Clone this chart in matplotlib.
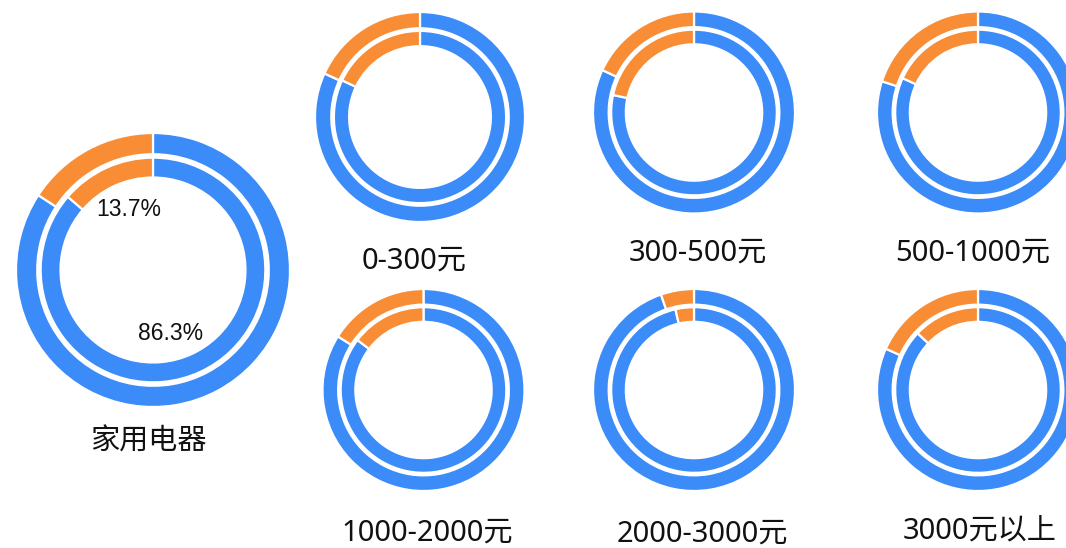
import matplotlib
matplotlib.use("Agg")
import matplotlib.pyplot as plt

# ---- data ----
categories = ['家用电器', '0-300元', '300-500元', '500-1000元', '1000-2000元', '2000-3000元', '3000元以上']
outer_orange = [15.8, 18.2, 18.1, 20.0, 16.1, 5.3, 18.3]   # outer ring, orange share (%)
inner_orange = [13.7, 18.0, 21.6, 18.2, 14.7, 3.6, 13.0]   # inner ring, orange share (%)
main_labels = ['86.3%', '13.7%']

# ---- layout (pixel positions, y measured from top) ----
W, H = 1066, 548
centers = [(153, 270), (420, 117), (694, 112.5), (978, 112.5),
           (423.5, 390), (694, 390), (978, 390)]
radii = [137, 105, 101, 101, 101, 101, 101]
title_pos = [(148, 442), (414, 261), (698, 253), (973, 253),
             (427.5, 533), (702, 534), (980, 532)]

BLUE = '#3b8bf9'
ORANGE = '#f98d36'

fig = plt.figure(figsize=(W / 100, H / 100), dpi=100)
ax = fig.add_axes([0, 0, 1, 1])

for i, name in enumerate(categories):
    cx, cy = centers[i]
    R = radii[i]
    c = (cx, H - cy)
    ov = [100 - outer_orange[i], outer_orange[i]]
    iv = [100 - inner_orange[i], inner_orange[i]]
    ax.pie(ov, radius=R, center=c, startangle=90, counterclock=False,
           colors=[BLUE, ORANGE],
           wedgeprops=dict(width=0.155 * R, edgecolor='white', linewidth=1.6))
    ax.pie(iv, radius=0.82 * R, center=c, startangle=90, counterclock=False,
           colors=[BLUE, ORANGE],
           wedgeprops=dict(width=0.145 * R, edgecolor='white', linewidth=1.6))
    tx, ty = title_pos[i]
    ax.text(tx, H - ty, name, ha='center', va='center', fontsize=21,
            family=['Noto Sans', 'Noto Sans CJK SC'], color='#111111')

# percentage labels of the main donut (inner ring)
mcx, mcy = centers[0]
ax.text(mcx + 17.5, H - (mcy + 64), main_labels[0], ha='center', va='center',
        fontsize=16.5, family='Liberation Sans', color='#111111')
ax.text(mcx - 24, H - (mcy - 61), main_labels[1], ha='center', va='center',
        fontsize=16.5, family='Liberation Sans', color='#111111')

ax.set_xlim(0, W)
ax.set_ylim(0, H)
ax.set_aspect('equal')
ax.axis('off')
fig.savefig('out.png', dpi=100, facecolor='white')
